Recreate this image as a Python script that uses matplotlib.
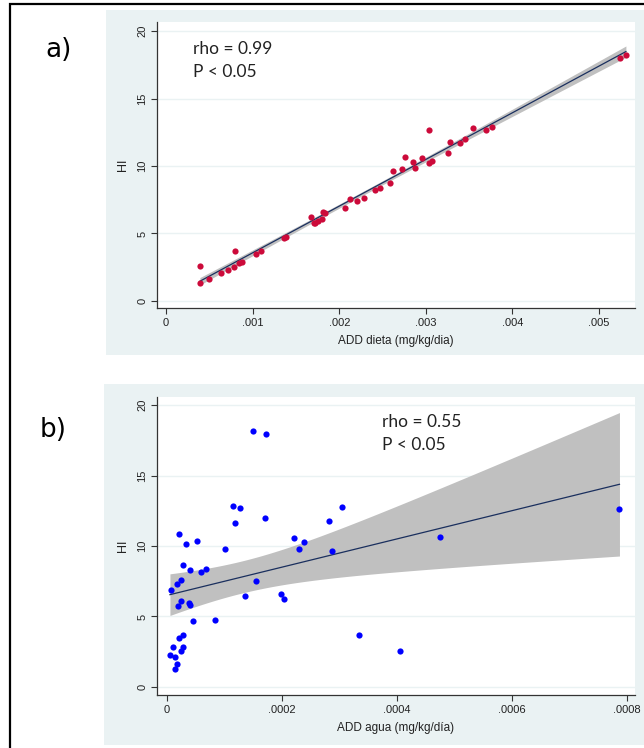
import matplotlib

matplotlib.use("Agg")
import matplotlib.pyplot as plt
import numpy as np
from matplotlib.patches import Rectangle

# panel a) HI vs ADD dieta
dieta_x = [0.000393, 0.00039, 0.0005, 0.00063, 0.00071, 0.00078, 0.0008, 0.00084,
           0.00088, 0.00104, 0.0011, 0.00138, 0.00136, 0.00167, 0.00172, 0.00171,
           0.00176, 0.00181, 0.00184, 0.0018, 0.00207, 0.00212, 0.0022, 0.00228,
           0.00241, 0.00247, 0.00258, 0.00262, 0.00273, 0.00276, 0.00285, 0.00288,
           0.00296, 0.00304, 0.00304, 0.00307, 0.00325, 0.00328, 0.00339, 0.00345,
           0.00354, 0.0037, 0.00376, 0.00524, 0.00531]
dieta_hi = [1.31, 2.6, 1.65, 2.1, 2.3, 2.54, 3.7, 2.84,
            2.87, 3.48, 3.68, 4.74, 4.7, 6.25, 5.8, 5.75,
            5.95, 6.57, 6.5, 6.07, 6.9, 7.53, 7.38, 7.65,
            8.22, 8.35, 8.72, 9.65, 9.8, 10.7, 10.27, 9.88,
            10.6, 12.7, 10.2, 10.4, 10.94, 11.8, 11.68, 11.98,
            12.8, 12.67, 12.9, 17.98, 18.2]

# panel b) HI vs ADD agua
agua_x = [0.0000209, 0.0000336, 0.0000533, 0.0001009, 0.000119, 0.0001704, 0.000221,
          0.00023, 0.000239, 0.0000278, 0.000041, 0.0000591, 0.0000678, 0.0000243,
          0.0000174, 0.0000075, 0.000155, 0.0001357, 0.000198, 0.0002045, 0.0000249,
          0.0000191, 0.0000393, 0.0000405, 0.0000463, 0.000084, 0.0000289, 0.0000219,
          0.0000115, 0.0000289, 0.0000243, 0.0000057, 0.000015, 0.0000174, 0.0000139,
          0.0001507, 0.0001727, 0.0001153, 0.0001275, 0.000282, 0.000304, 0.000288,
          0.000475, 0.000787, 0.000334, 0.000406]
agua_hi = [10.85, 10.14, 10.38, 9.81, 11.65, 11.96, 10.55,
           9.78, 10.26, 8.67, 8.3, 8.16, 8.37, 7.59,
           7.33, 6.88, 7.5, 6.48, 6.6, 6.22, 6.1,
           5.74, 5.98, 5.79, 4.7, 4.75, 3.69, 3.48,
           2.86, 2.81, 2.57, 2.29, 2.1, 1.63, 1.28,
           18.16, 17.94, 12.84, 12.67, 11.8, 12.79, 9.62,
           10.66, 12.65, 3.67, 2.58]

y_ticks = [0, 5, 10, 15, 20]
dieta_ticks = [0, 0.001, 0.002, 0.003, 0.004, 0.005]
dieta_labels = ["0", ".001", ".002", ".003", ".004", ".005"]
agua_ticks = [0, 0.0002, 0.0004, 0.0006, 0.0008]
agua_labels = ["0", ".0002", ".0004", ".0006", ".0008"]

W, H = 644, 748
BG = "#eaf2f3"
LINE = "#1a2f5e"
BAND = "#c0c0c0"


def px_rect(x0, y0, x1, y1):
    """pixel box (top-left origin) -> figure fraction [l, b, w, h]"""
    return [x0 / W, 1 - y1 / H, (x1 - x0) / W, (y1 - y0) / H]


def lfitci(x, y, t=2.015):
    x = np.asarray(x)
    y = np.asarray(y)
    n = len(x)
    b1, b0 = np.polyfit(x, y, 1)
    resid = y - (b0 + b1 * x)
    s = np.sqrt((resid ** 2).sum() / (n - 2))
    sxx = ((x - x.mean()) ** 2).sum()
    xs = np.linspace(x.min(), x.max(), 200)
    fit = b0 + b1 * xs
    se = s * np.sqrt(1 / n + (xs - x.mean()) ** 2 / sxx)
    return xs, fit, fit - t * se, fit + t * se


def stata_ax(ax, x, y, color, xticks, xlabels, xlabel, xlim, ylim):
    xs, fit, lo, hi = lfitci(x, y)
    ax.fill_between(xs, lo, hi, color=BAND, lw=0, zorder=2)
    ax.plot(xs, fit, color=LINE, lw=0.9, zorder=3)
    ax.scatter(x, y, s=20, color=color, lw=0, zorder=4)
    ax.set_xlim(*xlim)
    ax.set_ylim(*ylim)
    ax.set_xticks(xticks)
    ax.set_xticklabels(xlabels)
    ax.set_yticks(y_ticks)
    ax.set_yticklabels([str(v) for v in y_ticks], rotation=90, va="center")
    ax.grid(axis="y", color=BG, lw=1.0, zorder=0)
    ax.set_axisbelow(True)
    for side in ("top", "right"):
        ax.spines[side].set_visible(False)
    for side in ("left", "bottom"):
        ax.spines[side].set_color("#333333")
        ax.spines[side].set_linewidth(0.9)
    ax.tick_params(length=4, width=0.8, color="#333333", labelsize=8, labelcolor="#222222", pad=3)
    ax.set_xlabel(xlabel, fontsize=8.5, color="#222222", labelpad=5)
    ax.set_ylabel("HI", fontsize=9, color="#222222", labelpad=6)


plt.rcParams["font.family"] = ["Liberation Sans", "DejaVu Sans"]

fig = plt.figure(figsize=(W / 100, H / 100), dpi=100)
fig.patch.set_facecolor("white")

# graph regions
for box in [(106, 10, 650, 355), (104, 384, 650, 745)]:
    l, b, w, h = px_rect(*box)
    fig.add_artist(Rectangle((l, b), w, h, transform=fig.transFigure, facecolor=BG, edgecolor="none", zorder=0))

# outer border
l, b, w, h = px_rect(10, 4, 660, 760)
fig.add_artist(Rectangle((l, b), w, h, transform=fig.transFigure, facecolor="none", edgecolor="black", lw=1.6, zorder=5))

ax1 = fig.add_axes(px_rect(157, 22, 635, 308))
stata_ax(ax1, dieta_x, dieta_hi, "#cc0a3a", dieta_ticks, dieta_labels,
         "ADD dieta (mg/kg/dia)", (-0.000105, 0.005415), (-0.52, 20.67))
ax1.text(0.075, 0.905, "rho = 0.99", transform=ax1.transAxes, fontsize=12.5, family="Lato", va="center", color="#222222")
ax1.text(0.075, 0.825, "P < 0.05", transform=ax1.transAxes, fontsize=12.5, family="Lato", va="center", color="#222222")

ax2 = fig.add_axes(px_rect(157, 397, 635, 695))
stata_ax(ax2, agua_x, agua_hi, "#0000ff", agua_ticks, agua_labels,
         "ADD agua (mg/kg/día)", (-0.0000168, 0.000814), (-0.57, 20.57))
ax2.text(0.47, 0.915, "rho = 0.55", transform=ax2.transAxes, fontsize=12.5, family="Lato", va="center", color="#222222")
ax2.text(0.47, 0.838, "P < 0.05", transform=ax2.transAxes, fontsize=12.5, family="Lato", va="center", color="#222222")

fig.text(45 / W, 1 - 50 / H, "a)", fontsize=19, family="DejaVu Sans", va="center", ha="left")
fig.text(40 / W, 1 - 430 / H, "b)", fontsize=19, family="DejaVu Sans", va="center", ha="left")

fig.savefig("out.png", dpi=100)
plt.close(fig)
